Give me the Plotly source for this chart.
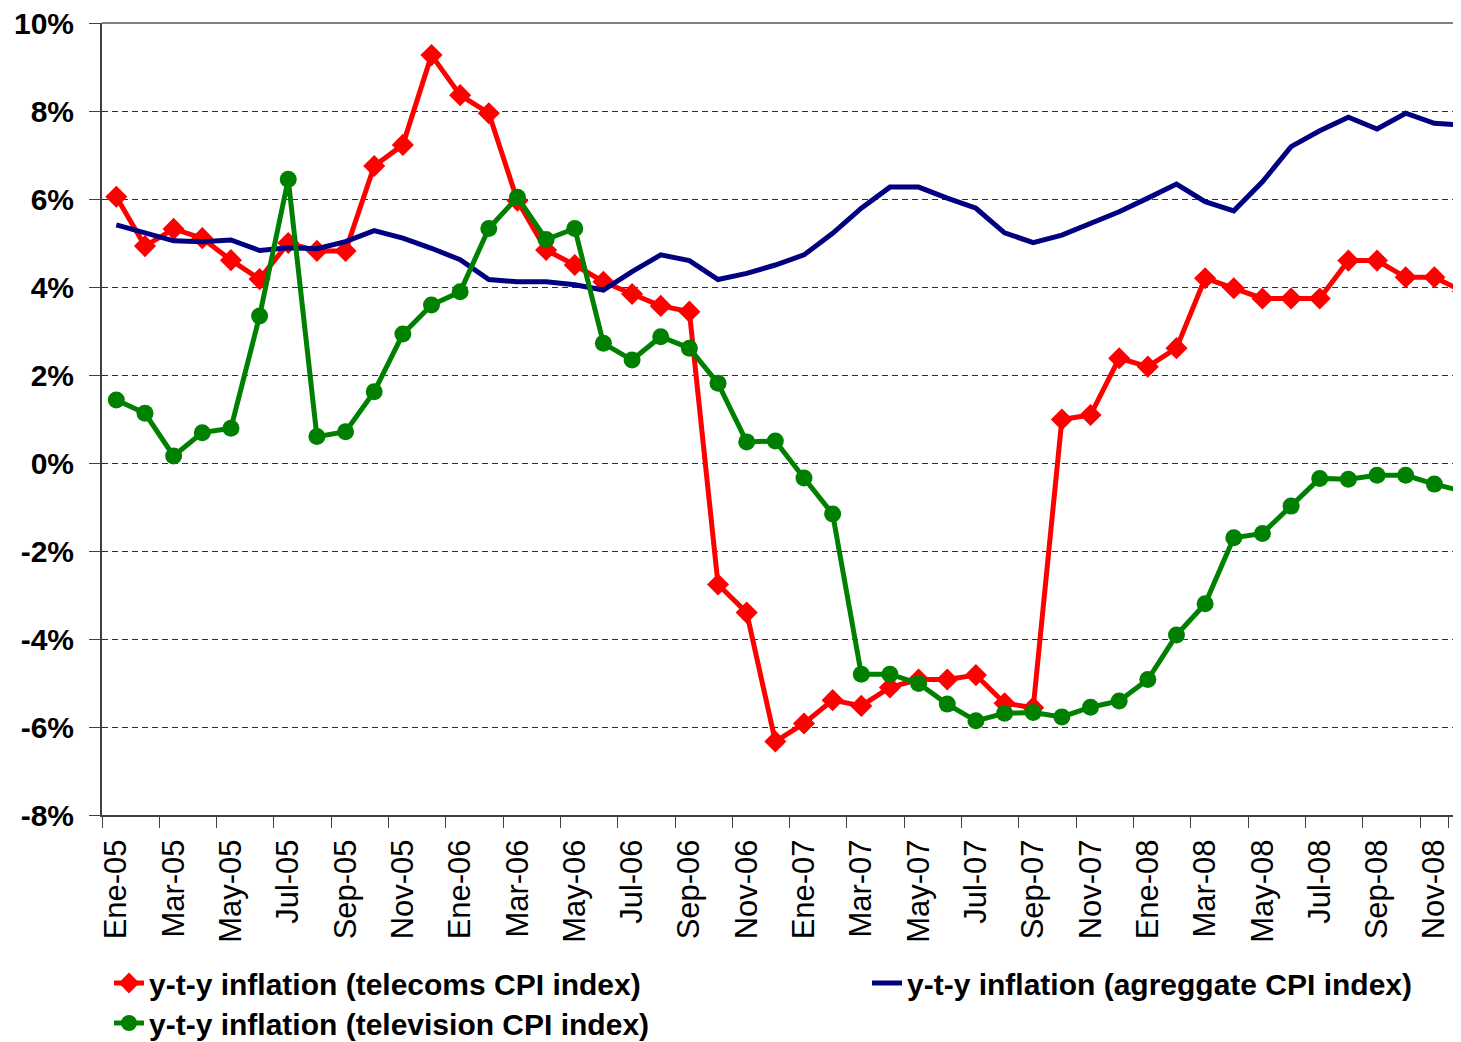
import plotly.graph_objects as go

months = ["Ene", "Feb", "Mar", "Abr", "May", "Jun", "Jul", "Ago", "Sep", "Oct", "Nov", "Dic"]
years = ["05", "06", "07", "08"]
categories = [f"{m}-{y}" for y in years for m in months]

telecoms = [6.05, 4.93, 5.32, 5.11, 4.61, 4.18, 5.00, 4.82, 4.82, 6.75, 7.23, 9.27,
            8.36, 7.95, 5.96, 4.84, 4.50, 4.12, 3.84, 3.57, 3.44, -2.76, -3.40, -6.33,
            -5.92, -5.39, -5.52, -5.10, -4.92, -4.92, -4.82, -5.46, -5.56, 0.99, 1.09, 2.38,
            2.19, 2.61, 4.20, 3.97, 3.74, 3.74, 3.74, 4.60, 4.60, 4.22, 4.22, 3.90]

aggregate = [5.41, 5.22, 5.05, 5.03, 5.07, 4.83, 4.89, 4.87, 5.03, 5.28, 5.11, 4.88,
             4.62, 4.17, 4.12, 4.12, 4.05, 3.93, 4.35, 4.73, 4.60, 4.17, 4.31, 4.50,
             4.73, 5.22, 5.79, 6.27, 6.27, 6.02, 5.79, 5.23, 5.01, 5.18, 5.43, 5.71,
             6.02, 6.34, 5.94, 5.73, 6.39, 7.19, 7.55, 7.86, 7.59, 7.95, 7.72, 7.68]

television = [1.43, 1.13, 0.16, 0.69, 0.79, 3.34, 6.45, 0.60, 0.71, 1.62, 2.93, 3.59,
              3.89, 5.33, 6.04, 5.08, 5.33, 2.72, 2.34, 2.87, 2.61, 1.81, 0.48, 0.50,
              -0.34, -1.16, -4.80, -4.80, -5.01, -5.48, -5.86, -5.69, -5.67, -5.77, -5.55, -5.41,
              -4.92, -3.91, -3.20, -1.70, -1.60, -0.98, -0.35, -0.37, -0.28, -0.28, -0.48, -0.64]

y_tickvals = [-8, -6, -4, -2, 0, 2, 4, 6, 8, 10]
y_ticktext = ["-8%", "-6%", "-4%", "-2%", "0%", "2%", "4%", "6%", "8%", "10%"]
x_tickvals = categories[::2]

names = ["y-t-y inflation (telecoms CPI index)",
         "y-t-y inflation (agreggate CPI index)",
         "y-t-y inflation (television CPI index)"]

# page has an 8px body margin; figure is sized/offset to compensate
OFF = 8
W, H = 1461 - OFF, 1042 - OFF
L, R, T = 102 - OFF, 0, 23 - OFF
B = H - (815 - OFF)
pw, ph = W - L - R, H - T - B

def px_x(p):
    return (p - OFF - L) / pw

def px_y(p):
    return (H - B - (p - OFF)) / ph

fig = go.Figure()
fig.add_trace(go.Scatter(x=categories, y=telecoms, name=names[0], mode="lines+markers",
                         line=dict(color="#FF0000", width=5),
                         marker=dict(symbol="diamond", size=17, color="#FF0000"),
                         legend="legend"))
fig.add_trace(go.Scatter(x=categories, y=aggregate, name=names[1], mode="lines",
                         line=dict(color="#000080", width=5),
                         legend="legend2"))
fig.add_trace(go.Scatter(x=categories, y=television, name=names[2], mode="lines+markers",
                         line=dict(color="#008000", width=5),
                         marker=dict(symbol="circle", size=17, color="#008000"),
                         legend="legend3"))

legend_font = dict(family="Liberation Sans, Arial", size=30, color="black", weight="bold")

fig.update_layout(
    width=W, height=H,
    margin=dict(l=L, r=R, t=T, b=B, autoexpand=False),
    paper_bgcolor="white", plot_bgcolor="white",
    showlegend=True,
    legend=dict(x=px_x(109), y=px_y(983), xanchor="left", yanchor="middle",
                font=legend_font, bgcolor="rgba(0,0,0,0)"),
    legend2=dict(x=px_x(867), y=px_y(983), xanchor="left", yanchor="middle",
                 font=legend_font, bgcolor="rgba(0,0,0,0)"),
    legend3=dict(x=px_x(109), y=px_y(1023), xanchor="left", yanchor="middle",
                 font=legend_font, bgcolor="rgba(0,0,0,0)"),
    xaxis=dict(type="category", categoryorder="array", categoryarray=categories,
               range=[-0.5, 46.93], tickmode="array", tickvals=x_tickvals,
               tickson="boundaries", ticks="outside", ticklen=11, tickcolor="#404040",
               tickwidth=1, tickangle=-90, showgrid=False, showline=True,
               linecolor="#404040", linewidth=2, ticklabelstandoff=10,
               ticklabeloverflow="allow",
               tickfont=dict(family="Liberation Sans, Arial", size=31, color="black")),
    yaxis=dict(range=[-8, 10], tickmode="array", tickvals=y_tickvals, ticktext=y_ticktext,
               ticks="outside", ticklen=11, tickcolor="#404040", tickwidth=1,
               showgrid=True, gridcolor="#303030", gridwidth=1, griddash="6px,4px",
               zeroline=False, showline=True, linecolor="#404040", linewidth=2,
               ticklabelstandoff=9, ticklabeloverflow="allow",
               tickfont=dict(family="Liberation Sans, Arial", size=30, color="black",
                             weight="bold")),
    shapes=[dict(type="line", xref="paper", yref="paper", x0=0, x1=1, y0=1, y1=1,
                 line=dict(color="#808080", width=2))],
)

fig.write_html("out.html")
